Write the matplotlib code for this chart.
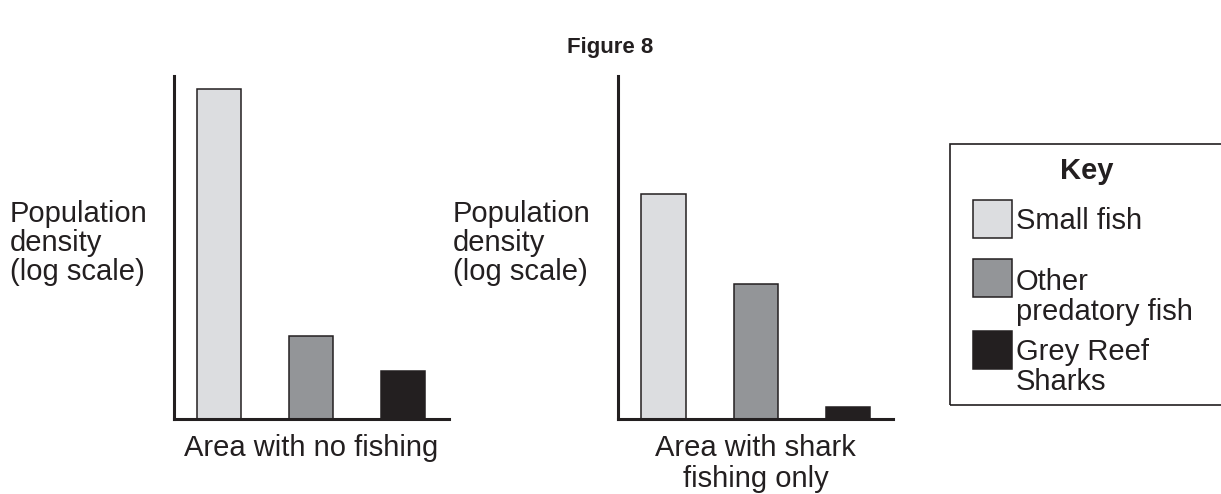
import matplotlib.pyplot as plt
from matplotlib.patches import Rectangle
import numpy as np

plt.rcParams['font.family'] = ['Liberation Sans', 'DejaVu Sans']

W, H = 1221, 494

groups = ["Small fish", "Other\npredatory fish", "Grey Reef\nSharks"]
no_fishing = [9.62, 2.42, 1.40]
shark_fishing = [6.56, 3.94, 0.35]
area_labels = ["Area with no fishing", "Area with shark\nfishing only"]
colors = ["#dcdde0", "#939598", "#231f20"]
edge = "#231f20"


def fx(x):
    return x / W


def fy(y):
    return 1 - y / H


fig = plt.figure(figsize=(W / 100, H / 100), dpi=100)

fig.text(fx(610), fy(47), "Figure 8", ha="center", va="center",
         fontsize=16, fontweight="bold", color="#231f20")

axes_left = [173.5, 618]
for left, vals, lab in zip(axes_left, [no_fishing, shark_fishing], area_labels):
    ax = fig.add_axes([fx(left), fy(419), 275 / W, 343 / H])
    x = np.arange(len(vals))
    ax.bar(x, vals, width=0.48, color=colors, edgecolor=edge, linewidth=1.1)
    ax.set_xlim(-0.495, 2.49)
    ax.set_ylim(0, 10)
    ax.set_xticks([])
    ax.set_yticks([])
    for s in ["top", "right"]:
        ax.spines[s].set_visible(False)
    for s in ["left", "bottom"]:
        ax.spines[s].set_linewidth(2.2)
        ax.spines[s].set_color(edge)
    ax.set_xlabel(lab, fontsize=21, color="#231f20", labelpad=11, linespacing=1.12)

for xl in [10, 453]:
    fig.text(fx(xl), fy(243), "Population\ndensity\n(log scale)", ha="left",
             va="center", fontsize=21, color="#231f20", linespacing=1.03)

# key box
fig.patches.append(Rectangle((fx(950), fy(405.5)), fx(300), 261 / H,
                             transform=fig.transFigure, fill=False,
                             edgecolor=edge, linewidth=1.2))
fig.text(fx(1087), fy(171), "Key", ha="center", va="center", fontsize=21,
         fontweight="bold", color="#231f20")
sw_tops = [200.5, 259, 331]
txt_y = [221, 297, 367]
for c, g, t, ty in zip(colors, groups, sw_tops, txt_y):
    fig.patches.append(Rectangle((fx(973), fy(t + 37.5)), fx(39), 37.5 / H,
                                 transform=fig.transFigure, facecolor=c,
                                 edgecolor=edge, linewidth=1.1))
    fig.text(fx(1016), fy(ty), g, ha="left", va="center", fontsize=21,
             color="#231f20", linespacing=1.1)

fig.savefig("out.png", dpi=100)
